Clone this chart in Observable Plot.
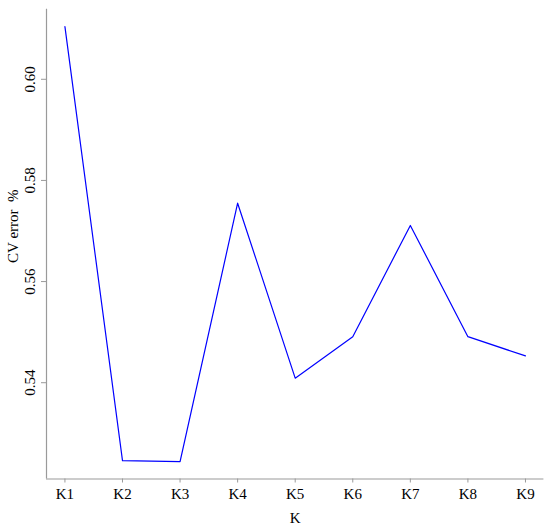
<!DOCTYPE html>
<html>
<head>
<meta charset="utf-8">
<script src="https://cdn.jsdelivr.net/npm/d3@7"></script>
<script src="https://cdn.jsdelivr.net/npm/@observablehq/plot@0.6"></script>
<style>
  html, body { margin: 0; padding: 0; background: white; }
</style>
</head>
<body>
<div id="chart"></div>
<script>
const categories = ["K1", "K2", "K3", "K4", "K5", "K6", "K7", "K8", "K9"];
const cvError = [0.6104, 0.5246, 0.5244, 0.5755, 0.5409, 0.5491, 0.5711, 0.5491, 0.5453];
const yTicks = [0.54, 0.56, 0.58, 0.60];
const yTickLabels = ["0.54", "0.56", "0.58", "0.60"];
const yLabel = "CV error\u00a0\u00a0%";
const xLabel = "K";

const data = categories.map((k, i) => ({k, idx: i + 1, v: cvError[i]}));
const idxs = data.map(d => d.idx);

// R-style 4% axis extension
const yMin0 = d3.min(cvError), yMax0 = d3.max(cvError);
const yPad = (yMax0 - yMin0) * 0.04;
const yDom = [yMin0 - yPad, yMax0 + yPad];
const xPad = (categories.length - 1) * 0.04;
const xDom = [1 - xPad, categories.length + xPad];

const axisGray = "#9a9a9a";
const fs = 15;

const chart = Plot.plot({
  width: 550,
  height: 527,
  marginLeft: 46,
  marginRight: 6.6,
  marginTop: 8.8,
  marginBottom: 48.5,
  style: {fontFamily: "'Liberation Serif', 'DejaVu Serif', serif", fontSize: fs + "px", background: "white", color: "black"},
  x: {domain: xDom},
  y: {domain: yDom},
  marks: [
    Plot.ruleX([xDom[0]], {stroke: axisGray, strokeWidth: 1.2}),
    Plot.ruleY([yDom[0]], {stroke: axisGray, strokeWidth: 1.2}),
    Plot.axisX({ticks: idxs, tickSize: 4, tickPadding: 5, tickFormat: i => categories[i - 1], stroke: axisGray, fill: "black", fontSize: fs, label: null}),
    Plot.axisY({ticks: yTicks, tickSize: 5, tickFormat: () => "", stroke: axisGray, label: null}),
    Plot.text(yTicks, {y: d => d, text: (d, i) => yTickLabels[i], frameAnchor: "left", dx: -16, rotate: -90, textAnchor: "middle", lineAnchor: "middle", fill: "black", fontSize: fs}),
    Plot.text([yLabel], {frameAnchor: "left", dx: -33, dy: -18, rotate: -90, textAnchor: "middle", lineAnchor: "middle", fill: "black", fontSize: fs}),
    Plot.text([xLabel], {frameAnchor: "bottom", dy: 39, textAnchor: "middle", lineAnchor: "middle", fill: "black", fontSize: fs}),
    Plot.line(data, {x: "idx", y: "v", stroke: "#0000ff", strokeWidth: 1.2})
  ]
});
document.getElementById("chart").appendChild(chart);
</script>
</body>
</html>
